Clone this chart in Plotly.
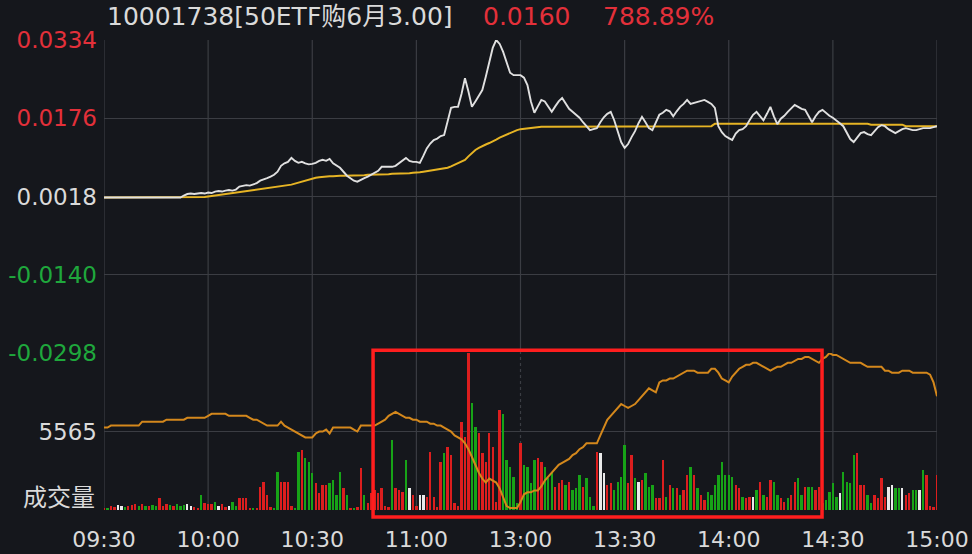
import plotly.graph_objects as go

# ---------------- data ----------------
time_ticks = [0, 30, 60, 90, 120, 150, 180, 210, 240]
time_labels = ["09:30", "10:00", "10:30", "11:00", "13:00", "13:30", "14:00", "14:30", "15:00"]

prev_close = 0.0018
last_price = 0.0160
price_ticks = [0.0334, 0.0176, 0.0018, -0.0140, -0.0298]
vol_mid_tick = 5565
vol_max = 11130

# option price per minute (i0 .. i240)
price = [
    0.0016, 0.0016, 0.0017, 0.0016, 0.0016, 0.0016, 0.0017, 0.0016, 0.0016, 0.0016,
    0.0017, 0.0016, 0.0016, 0.0016, 0.0016, 0.0017, 0.0016, 0.0016, 0.0016, 0.0016,
    0.0017, 0.0016, 0.0016, 0.0020, 0.0023, 0.0024, 0.0023, 0.0024, 0.0025, 0.0024,
    0.0026, 0.0025, 0.0028, 0.0029, 0.0028, 0.0030, 0.0031, 0.0030, 0.0032, 0.0038,
    0.0040, 0.0041, 0.0040, 0.0042, 0.0045, 0.0050, 0.0052, 0.0055, 0.0058, 0.0062,
    0.0068, 0.0080, 0.0085, 0.0088, 0.0096, 0.0090, 0.0086, 0.0088, 0.0085, 0.0083,
    0.0084, 0.0086, 0.0090, 0.0092, 0.0090, 0.0094, 0.0085, 0.0080, 0.0076, 0.0068,
    0.0060, 0.0055, 0.0050, 0.0048, 0.0052, 0.0055, 0.0058, 0.0062, 0.0066, 0.0070,
    0.0078, 0.0078, 0.0077, 0.0078, 0.0080, 0.0085, 0.0090, 0.0096, 0.0090, 0.0088,
    0.0088, 0.0086, 0.0100, 0.0115, 0.0125, 0.0132, 0.0135, 0.0140, 0.0142, 0.0172,
    0.0197, 0.0199, 0.0199, 0.0225, 0.0257, 0.0230, 0.0199, 0.0210, 0.0222, 0.0233,
    0.0260, 0.0290, 0.0318, 0.0334, 0.0326, 0.0310, 0.0290, 0.0268, 0.0263, 0.0263,
    0.0263, 0.0258, 0.0243, 0.0210, 0.0187, 0.0200, 0.0213, 0.0210, 0.0198, 0.0189,
    0.0200, 0.0210, 0.0217, 0.0205, 0.0195, 0.0189, 0.0183, 0.0177, 0.0168, 0.0160,
    0.0152, 0.0154, 0.0156, 0.0168, 0.0178, 0.0185, 0.0189, 0.0172, 0.0150, 0.0128,
    0.0116, 0.0124, 0.0138, 0.0150, 0.0166, 0.0179, 0.0168, 0.0156, 0.0152, 0.0168,
    0.0183, 0.0187, 0.0193, 0.0190, 0.0180, 0.0190, 0.0199, 0.0205, 0.0213, 0.0205,
    0.0207, 0.0209, 0.0211, 0.0213, 0.0209, 0.0205, 0.0197, 0.0160, 0.0148, 0.0140,
    0.0136, 0.0132, 0.0145, 0.0152, 0.0154, 0.0160, 0.0172, 0.0183, 0.0189, 0.0180,
    0.0172, 0.0185, 0.0199, 0.0180, 0.0164, 0.0175, 0.0181, 0.0189, 0.0197, 0.0203,
    0.0199, 0.0195, 0.0193, 0.0180, 0.0168, 0.0180, 0.0189, 0.0193, 0.0187, 0.0181,
    0.0177, 0.0172, 0.0166, 0.0160, 0.0148, 0.0134, 0.0128, 0.0138, 0.0146, 0.0148,
    0.0144, 0.0142, 0.0150, 0.0158, 0.0162, 0.0160, 0.0154, 0.0150, 0.0146, 0.0150,
    0.0154, 0.0156, 0.0154, 0.0152, 0.0152, 0.0154, 0.0156, 0.0156, 0.0156, 0.0158,
    0.0160,
]

# average price per minute
avg_price = [
    0.0016, 0.0016, 0.0016, 0.0016, 0.0016, 0.0016, 0.0016, 0.0016, 0.0016, 0.0016,
    0.0016, 0.0016, 0.0016, 0.0016, 0.0016, 0.0016, 0.0016, 0.0016, 0.0016, 0.0016,
    0.0016, 0.0016, 0.0016, 0.0016, 0.0016, 0.0016, 0.0016, 0.0016, 0.0016, 0.0017,
    0.0018, 0.0019, 0.0020, 0.0021, 0.0022, 0.0023, 0.0024, 0.0025, 0.0025, 0.0026,
    0.0027, 0.0028, 0.0029, 0.0030, 0.0031, 0.0032, 0.0033, 0.0034, 0.0035, 0.0036,
    0.0037, 0.0038, 0.0039, 0.0040, 0.0042, 0.0044, 0.0046, 0.0048, 0.0051, 0.0053,
    0.0055, 0.0056, 0.0057, 0.0058, 0.0058, 0.0059, 0.0059, 0.0060, 0.0060, 0.0060,
    0.0060, 0.0060, 0.0061, 0.0061, 0.0061, 0.0061, 0.0062, 0.0062, 0.0062, 0.0062,
    0.0063, 0.0063, 0.0063, 0.0064, 0.0064, 0.0064, 0.0065, 0.0065, 0.0065, 0.0066,
    0.0066, 0.0067, 0.0068, 0.0069, 0.0070, 0.0071, 0.0072, 0.0073, 0.0074, 0.0076,
    0.0079, 0.0082, 0.0085, 0.0088, 0.0092, 0.0099, 0.0106, 0.0112, 0.0116, 0.0120,
    0.0123, 0.0126, 0.0129, 0.0133, 0.0137, 0.0140, 0.0144, 0.0147, 0.0150, 0.0152,
    0.0154, 0.0155, 0.0156, 0.0157, 0.0158, 0.0158, 0.0159, 0.0159, 0.0159, 0.0160,
    0.0160, 0.0160, 0.0160, 0.0160, 0.0160, 0.0160, 0.0160, 0.0160, 0.0160, 0.0160,
    0.0160, 0.0160, 0.0160, 0.0160, 0.0160, 0.0160, 0.0160, 0.0160, 0.0160, 0.0160,
    0.0160, 0.0160, 0.0160, 0.0160, 0.0160, 0.0160, 0.0160, 0.0160, 0.0160, 0.0160,
    0.0160, 0.0160, 0.0160, 0.0160, 0.0160, 0.0160, 0.0160, 0.0160, 0.0160, 0.0160,
    0.0160, 0.0160, 0.0160, 0.0160, 0.0160, 0.0160, 0.0165, 0.0165, 0.0165, 0.0165,
    0.0165, 0.0165, 0.0165, 0.0165, 0.0165, 0.0165, 0.0165, 0.0165, 0.0165, 0.0165,
    0.0165, 0.0165, 0.0165, 0.0165, 0.0165, 0.0165, 0.0165, 0.0165, 0.0165, 0.0165,
    0.0165, 0.0165, 0.0165, 0.0165, 0.0165, 0.0165, 0.0165, 0.0165, 0.0165, 0.0165,
    0.0165, 0.0165, 0.0165, 0.0165, 0.0165, 0.0165, 0.0165, 0.0165, 0.0165, 0.0165,
    0.0165, 0.0163, 0.0163, 0.0163, 0.0163, 0.0163, 0.0163, 0.0163, 0.0163, 0.0163,
    0.0163, 0.0160, 0.0160, 0.0160, 0.0160, 0.0160, 0.0160, 0.0160, 0.0160, 0.0160,
    0.0160,
]

# volume per minute
volume = [
    150, 100, 250, 200, 350, 250, 200, 300, 350, 400,
    300, 400, 300, 250, 350, 300, 830, 300, 450, 350,
    300, 400, 300, 350, 400, 250, 200, 150, 1060, 470,
    400, 450, 590, 300, 450, 200, 300, 590, 300, 830,
    830, 830, 100, 100, 150, 1650, 2000, 1060, 200, 150,
    2710, 2000, 2000, 2000, 300, 150, 4130, 4250, 3660, 3420,
    2600, 1890, 1180, 1770, 1770, 1890, 2120, 1060, 2710, 1530,
    1060, 150, 100, 200, 2950, 1060, 470, 1180, 1420, 1200,
    1540, 300, 200, 4960, 1540, 1420, 1300, 3540, 1540, 1060,
    300, 1060, 1060, 950, 4130, 950, 200, 3420, 4010, 4480,
    3900, 500, 300, 6250, 5190, 11130, 7550, 5900, 5430, 4010,
    3420, 5430, 4480, 600, 7080, 6840, 3540, 3070, 2360, 500,
    4720, 3190, 3070, 1890, 3540, 3660, 3420, 3070, 2240, 2710,
    1650, 1890, 2120, 1770, 2000, 1420, 1530, 2480, 1650, 2240,
    950, 300, 4130, 4010, 2600, 1770, 1890, 1420, 2000, 2360,
    4600, 1890, 3900, 2240, 2000, 2120, 2600, 1650, 1770, 830,
    830, 3540, 950, 1770, 1540, 1540, 1060, 1420, 2480, 3070,
    2480, 1540, 1060, 710, 1300, 1060, 1800, 2480, 3400, 2480,
    2480, 2360, 1770, 1540, 950, 830, 950, 950, 1420, 2000,
    1060, 950, 2130, 2000, 1060, 830, 600, 830, 1060, 2000,
    2240, 1060, 1650, 1650, 1650, 1420, 1650, 500, 700, 1300,
    1900, 900, 1180, 2720, 2000, 1900, 3900, 4020, 1770, 1770,
    1060, 470, 1060, 830, 2240, 950, 1650, 1770, 1540, 1540,
    1540, 1060, 1180, 1420, 1420, 1420, 2840, 2480, 300, 200,
    2480,
]

# tick direction of each minute: 1 up, -1 down, 0 unchanged
direction = [
    1, -1, 1, 1, 0, 0, -1, 1, 1, 1,
    -1, 1, -1, 1, -1, -1, 1, 1, 1, -1,
    1, -1, -1, -1, 0, 0, 1, 1, -1, 1,
    1, 1, -1, 0, 1, 1, 0, -1, -1, 1,
    1, 1, 1, -1, 1, 1, 1, 1, 1, -1,
    -1, 1, 1, 1, 1, -1, -1, 1, -1, -1,
    -1, 1, 1, 1, 1, -1, -1, -1, -1, 1,
    -1, 1, -1, 1, 1, -1, 1, 1, 1, 1,
    1, 1, 1, -1, 1, 1, 1, -1, 0, 1,
    1, 0, 0, 1, 1, 1, 1, 1, -1, 1,
    1, 1, 1, 1, 1, 1, -1, -1, 1, 1,
    1, 1, 1, 1, 1, -1, -1, -1, -1, -1,
    1, -1, -1, -1, -1, 1, 1, -1, -1, -1,
    1, 1, 1, -1, 1, -1, -1, -1, 1, -1,
    -1, -1, 1, 0, 0, 1, 1, -1, -1, -1,
    -1, 1, 1, -1, 0, 1, -1, -1, -1, 1,
    1, 1, -1, 1, -1, 1, -1, 1, 1, -1,
    1, -1, 1, 1, -1, -1, -1, -1, -1, -1,
    -1, -1, 1, 1, -1, 1, 1, 0, -1, 1,
    -1, 1, 1, -1, -1, 1, 1, -1, 1, 1,
    -1, -1, 1, -1, -1, 1, 1, -1, -1, -1,
    -1, -1, 0, -1, -1, -1, -1, 1, 1, 1,
    -1, -1, 1, 1, 1, 1, 0, 0, -1, -1,
    0, 1, 1, -1, -1, 0, -1, 1, 1, 1,
    1,
]

# underlying 50ETF price per minute (orange line in the lower panel)
etf = [
    2.922, 2.922, 2.923, 2.923, 2.923, 2.923, 2.923, 2.923, 2.923, 2.923,
    2.923, 2.925, 2.925, 2.925, 2.925, 2.925, 2.925, 2.925, 2.926, 2.926,
    2.926, 2.926, 2.926, 2.926, 2.927, 2.927, 2.927, 2.927, 2.927, 2.927,
    2.928, 2.929, 2.929, 2.929, 2.929, 2.929, 2.928, 2.928, 2.928, 2.928,
    2.928, 2.928, 2.927, 2.926, 2.926, 2.925, 2.924, 2.923, 2.923, 2.923,
    2.923, 2.925, 2.923, 2.922, 2.921, 2.920, 2.919, 2.918, 2.917, 2.917,
    2.917, 2.919, 2.920, 2.920, 2.921, 2.919, 2.922, 2.922, 2.922, 2.922,
    2.922, 2.922, 2.921, 2.920, 2.923, 2.923, 2.923, 2.923, 2.923, 2.924,
    2.925, 2.926, 2.928, 2.929, 2.930, 2.929, 2.928, 2.927, 2.927, 2.926,
    2.926, 2.925, 2.925, 2.925, 2.924, 2.924, 2.923, 2.923, 2.922, 2.921,
    2.920, 2.918, 2.917, 2.916, 2.914, 2.911, 2.907, 2.903, 2.899, 2.896,
    2.894, 2.896, 2.895, 2.894, 2.891, 2.886, 2.882, 2.881, 2.881, 2.881,
    2.884, 2.888, 2.889, 2.889, 2.890, 2.890, 2.892, 2.895, 2.897, 2.899,
    2.901, 2.903, 2.904, 2.905, 2.906, 2.908, 2.909, 2.911, 2.912, 2.914,
    2.914, 2.914, 2.914, 2.918, 2.922, 2.926, 2.928, 2.930, 2.932, 2.934,
    2.933, 2.932, 2.933, 2.934, 2.936, 2.938, 2.940, 2.942, 2.941, 2.940,
    2.945, 2.946, 2.946, 2.947, 2.947, 2.948, 2.949, 2.950, 2.951, 2.951,
    2.951, 2.950, 2.950, 2.950, 2.950, 2.952, 2.952, 2.950, 2.947, 2.946,
    2.945, 2.948, 2.950, 2.952, 2.953, 2.954, 2.954, 2.955, 2.955, 2.954,
    2.953, 2.952, 2.951, 2.952, 2.953, 2.953, 2.954, 2.955, 2.955, 2.956,
    2.957, 2.957, 2.958, 2.958, 2.957, 2.956, 2.955, 2.957, 2.958, 2.960,
    2.959, 2.959, 2.958, 2.957, 2.956, 2.955, 2.955, 2.955, 2.955, 2.954,
    2.953, 2.953, 2.953, 2.953, 2.953, 2.951, 2.951, 2.950, 2.950, 2.950,
    2.951, 2.951, 2.951, 2.950, 2.950, 2.950, 2.950, 2.950, 2.949, 2.945,
    2.938,
]
etf_range = [2.880, 2.960]

title_name = "10001738[50ETF购6月3.00]"

# ---------------- styling ----------------
BG = "#15171c"
GRID = "#3b3d43"
RED = "#e3303a"
GREEN = "#1fa83c"
TXT = "#dadada"
FONT = "DejaVu Sans, Noto Sans CJK SC, sans-serif"
CJK = "Noto Sans CJK SC, sans-serif"

minutes = list(range(len(price)))
bar_colors = {1: "#dc1e1e", -1: "#17a317", 0: "#eaeaea"}

fig = go.Figure()
fig.add_trace(go.Bar(x=list(range(len(volume))), y=volume,
                     marker=dict(color=[bar_colors[d] for d in direction], line_width=0),
                     width=0.68, xaxis="x", yaxis="y2", hoverinfo="skip"))
fig.add_trace(go.Scatter(x=list(range(len(etf))), y=etf, mode="lines",
                         line=dict(color="#d4881c", width=2), xaxis="x", yaxis="y3",
                         hoverinfo="skip"))
fig.add_trace(go.Scatter(x=list(range(len(avg_price))), y=avg_price, mode="lines",
                         line=dict(color="#e6b424", width=2), xaxis="x", yaxis="y",
                         hoverinfo="skip"))
fig.add_trace(go.Scatter(x=minutes, y=price, mode="lines",
                         line=dict(color="#e0e0e0", width=1.9), xaxis="x", yaxis="y",
                         hoverinfo="skip"))


def tick_color(v):
    if abs(v - prev_close) < 1e-9:
        return TXT
    return RED if v > prev_close else GREEN


price_text = ["<span style='color:%s'>%.4f</span>" % (tick_color(v), v) for v in price_ticks]

# vertical grid lines drawn as shapes (dotted at the lunch break in the volume panel)
shapes = []
for t in time_ticks:
    shapes.append(dict(type="line", xref="x", yref="y domain", x0=t, x1=t, y0=0, y1=1,
                       line=dict(color=GRID, width=1.2), layer="below"))
    shapes.append(dict(type="line", xref="x", yref="y2 domain", x0=t, x1=t, y0=0, y1=1,
                       line=dict(color=GRID, width=1.2, dash="dot" if t == 120 else "solid"),
                       layer="below"))
# red highlight rectangle
shapes.append(dict(type="rect", xref="paper", yref="paper",
                   x0=0.323, x1=0.862, y0=-0.015, y1=0.340,
                   line=dict(color="#ff1e1e", width=3.5), fillcolor="rgba(0,0,0,0)",
                   layer="above"))

pct = (last_price - prev_close) / prev_close * 100
annotations = [
    dict(text=title_name, xref="paper", yref="paper", x=0.001, y=1.049,
         xanchor="left", yanchor="middle", showarrow=False,
         font=dict(size=25, color=TXT, family=FONT)),
    dict(text="%.4f" % last_price, xref="paper", yref="paper", x=0.4526, y=1.049,
         xanchor="left", yanchor="middle", showarrow=False,
         font=dict(size=25, color=RED, family=FONT)),
    dict(text="%.2f%%" % pct, xref="paper", yref="paper", x=0.5966, y=1.049,
         xanchor="left", yanchor="middle", showarrow=False,
         font=dict(size=25, color=RED, family=FONT)),
    dict(text="成交量", xref="paper", yref="paper", x=-0.0084, y=0.030,
         xanchor="right", yanchor="middle", showarrow=False,
         font=dict(size=24, color=TXT, family=CJK)),
]

fig.update_layout(
    width=972, height=554,
    margin=dict(l=104, r=35, t=40, b=44, pad=0, autoexpand=False),
    paper_bgcolor=BG, plot_bgcolor=BG,
    showlegend=False, bargap=0,
    font=dict(family=FONT, color=TXT),
    xaxis=dict(domain=[0, 1], range=[0, 240], anchor="y2", automargin=False,
               tickvals=time_ticks, ticktext=time_labels, showgrid=False,
               zeroline=False, showline=False, ticks="", ticklabelstandoff=14,
               tickfont=dict(size=22, color=TXT, family=FONT)),
    yaxis=dict(domain=[0.334, 1], range=[price_ticks[-1], price_ticks[0]], anchor="x",
               automargin=False,
               tickvals=price_ticks, ticktext=price_text, showgrid=True,
               gridcolor=GRID, gridwidth=1.2, zeroline=False, showline=False,
               ticks="", ticklabelstandoff=6,
               tickfont=dict(size=23, family=FONT)),
    yaxis2=dict(domain=[0, 0.334], range=[0, vol_max], anchor="x", automargin=False,
                tickvals=[0, vol_mid_tick], ticktext=["", str(vol_mid_tick)],
                showgrid=True, gridcolor=GRID, gridwidth=1.2, zeroline=False,
                showline=False, ticks="", ticklabelstandoff=6,
                tickfont=dict(size=23, color=TXT, family=FONT)),
    yaxis3=dict(domain=[0, 0.334], range=etf_range, overlaying="y2", anchor="x",
                visible=False),
    shapes=shapes,
    annotations=annotations,
)

# remove the browser's default page margin / scrollbars so the figure fills the window
page_js = ("var s=document.createElement('style');"
           "s.textContent='html,body{margin:0;padding:0;overflow:hidden;background:%s;}';"
           "document.head.appendChild(s);" % BG)
fig.write_html("out.html", post_script=page_js,
               config={"displayModeBar": False, "responsive": False})
